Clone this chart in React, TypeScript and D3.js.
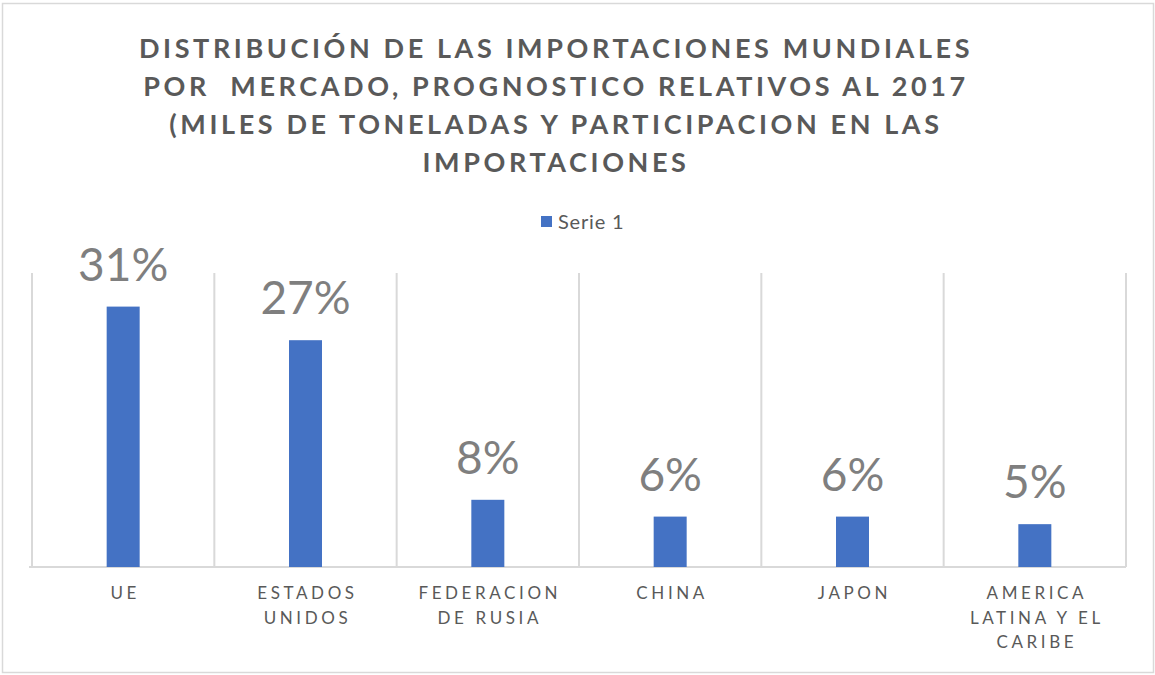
import React, { useEffect, useRef } from 'react';
import * as d3 from 'd3';

const titleLines = [
  'DISTRIBUCIÓN DE LAS IMPORTACIONES MUNDIALES',
  'POR  MERCADO, PROGNOSTICO RELATIVOS AL 2017',
  '(MILES DE TONELADAS Y PARTICIPACION EN LAS',
  'IMPORTACIONES',
];
const categories = ['UE', 'ESTADOS UNIDOS', 'FEDERACION DE RUSIA', 'CHINA', 'JAPON', 'AMERICA LATINA Y EL CARIBE'];
const categoryLines = [['UE'], ['ESTADOS', 'UNIDOS'], ['FEDERACION', 'DE RUSIA'], ['CHINA'], ['JAPON'], ['AMERICA', 'LATINA Y EL', 'CARIBE']];
const serie1 = [31, 27, 8, 6, 6, 5.1];
const seriesName = 'Serie 1';

const App = () => {
  const svgRef = useRef<SVGSVGElement>(null);

  useEffect(() => {
    const width = 1155;
    const height = 675;
    const margin = { top: 273, right: 29, bottom: 108, left: 32 };
    const font = 'Lato, "Open Sans", sans-serif';
    const grey = '#595959';

    const svg = d3.select(svgRef.current);
    svg.selectAll('*').remove();
    svg.attr('width', width).attr('height', height).attr('viewBox', [0, 0, width, height]);

    // chart frame
    svg.append('rect')
      .attr('x', 2.5).attr('y', 3.5)
      .attr('width', 1151).attr('height', 669)
      .attr('fill', 'white')
      .attr('stroke', '#d9d9d9')
      .attr('stroke-width', 1.5);

    const x = d3.scaleBand<string>()
      .domain(categories)
      .range([margin.left, width - margin.right])
      .padding(0);

    const y = d3.scaleLinear()
      .domain([0, 35])
      .range([height - margin.bottom, margin.top]);

    // title
    svg.append('g')
      .selectAll('text')
      .data(titleLines)
      .join('text')
      .attr('x', 556)
      .attr('y', (d, i) => 58 + i * 38)
      .attr('text-anchor', 'middle')
      .attr('fill', grey)
      .style('font', `bold 27px ${font}`)
      .style('letter-spacing', '3.6px')
      .style('white-space', 'pre')
      .text(d => d);

    // legend
    const legend = svg.append('g');
    legend.append('rect')
      .attr('x', 541).attr('y', 216)
      .attr('width', 11).attr('height', 11)
      .attr('fill', '#4472c4');
    legend.append('text')
      .attr('x', 558).attr('y', 229)
      .attr('fill', grey)
      .style('font', `20px ${font}`)
      .style('letter-spacing', '0.8px')
      .text(seriesName);

    // vertical gridlines between categories
    const edges = categories.map(c => x(c)!).concat([x.range()[1]]);
    svg.append('g')
      .selectAll('line')
      .data(edges)
      .join('line')
      .attr('x1', d => d).attr('x2', d => d)
      .attr('y1', y(35)).attr('y2', y(0))
      .attr('stroke', '#d9d9d9')
      .attr('stroke-width', 2);

    // category axis line
    svg.append('line')
      .attr('x1', margin.left - 3).attr('x2', x.range()[1])
      .attr('y1', y(0)).attr('y2', y(0))
      .attr('stroke', '#d9d9d9')
      .attr('stroke-width', 2);

    const barW = 33;
    const data = categories.map((c, i) => ({ c, v: serie1[i] }));

    svg.append('g')
      .selectAll('rect')
      .data(data)
      .join('rect')
      .attr('x', d => x(d.c)! + x.bandwidth() / 2 - barW / 2)
      .attr('y', d => y(d.v))
      .attr('width', barW)
      .attr('height', d => y(0) - y(d.v))
      .attr('fill', '#4472c4');

    // data labels
    svg.append('g')
      .selectAll('text')
      .data(data)
      .join('text')
      .attr('x', d => x(d.c)! + x.bandwidth() / 2)
      .attr('y', d => y(d.v) - 26)
      .attr('text-anchor', 'middle')
      .attr('fill', '#7f7f7f')
      .style('font', `46px ${font}`)
      .text(d => `${Math.round(d.v)}%`);

    // category labels
    const labels = svg.append('g')
      .selectAll('text')
      .data(categories)
      .join('text')
      .attr('text-anchor', 'middle')
      .attr('fill', grey)
      .style('font', `17px ${font}`)
      .style('letter-spacing', '3.6px');

    labels.selectAll('tspan')
      .data((d, i) => categoryLines[i].map(t => ({ t, c: d })))
      .join('tspan')
      .attr('x', d => x(d.c)! + x.bandwidth() / 2 + 2)
      .attr('y', (d, i) => 599 + i * 24.5)
      .text(d => d.t);
  }, []);

  return (
    <div style={{ position: 'absolute', left: 0, top: 0 }}>
      <svg ref={svgRef}></svg>
    </div>
  );
};

export default App;
